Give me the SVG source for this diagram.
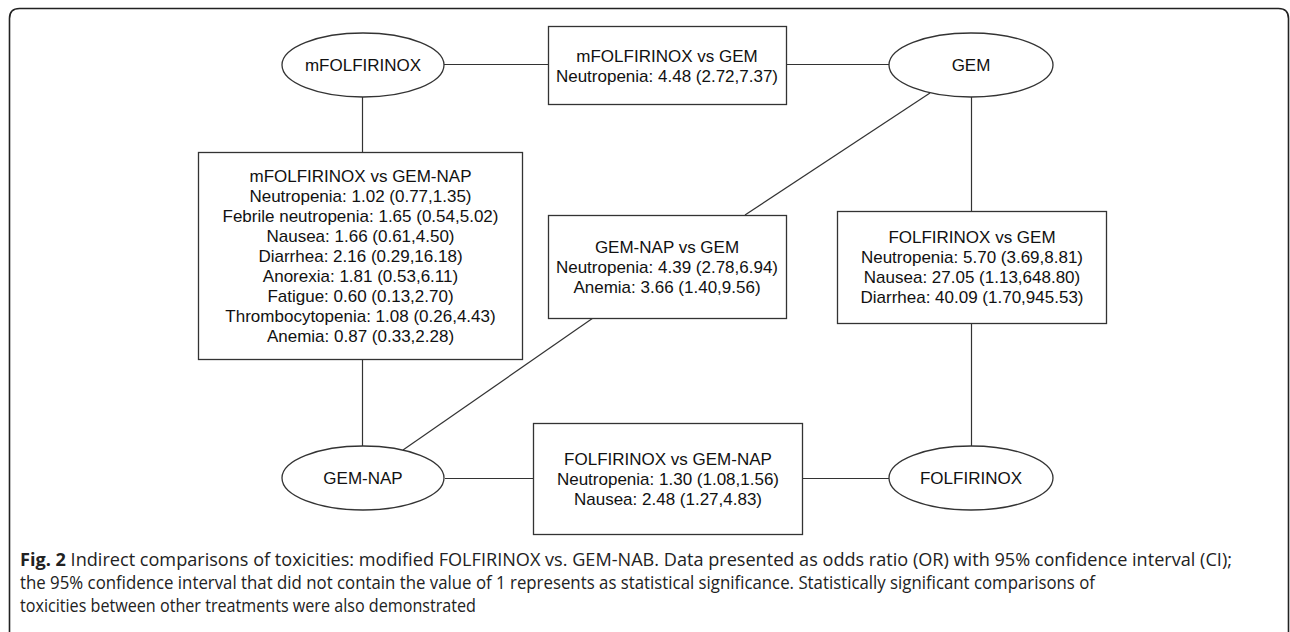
<svg xmlns="http://www.w3.org/2000/svg" width="1290" height="632" viewBox="0 0 1290 632">
<style>
.frame{fill:none;stroke:#222;stroke-width:1.6}
.node{fill:#fff;stroke:#333;stroke-width:1.3}
.edge{stroke:#333;stroke-width:1.2;fill:none}
.t{font-family:"Liberation Sans",Arial,sans-serif;font-size:17px;fill:#111;text-anchor:middle}
.cap{font-family:"Open Sans","Noto Sans",sans-serif;font-size:18px;fill:#222}
.b{font-weight:bold}
</style>
<rect width="1290" height="632" fill="#fff"/>
<path class="frame" d="M9.5 632 V18.5 Q9.5 8.5 19.5 8.5 H1278.5 Q1288.5 8.5 1288.5 18.5 V632"/>
<g id="connectors">
<line class="edge" x1="444" y1="64.5" x2="548" y2="64.5"/>
<line class="edge" x1="786" y1="64.5" x2="889" y2="64.5"/>
<line class="edge" x1="362.5" y1="97" x2="362.5" y2="152"/>
<line class="edge" x1="362.5" y1="359" x2="362.5" y2="446"/>
<line class="edge" x1="971.5" y1="97" x2="971.5" y2="211"/>
<line class="edge" x1="971.5" y1="323" x2="971.5" y2="446"/>
<line class="edge" x1="445" y1="478.5" x2="533" y2="478.5"/>
<line class="edge" x1="802" y1="478.5" x2="889" y2="478.5"/>
<line class="edge" x1="930" y1="93" x2="745" y2="215"/>
<line class="edge" x1="593" y1="318" x2="403" y2="450"/>
</g>
<g id="n-mfolfirinox">
<ellipse class="node" cx="363" cy="65" rx="81" ry="32"/>
<text class="t" x="363" y="71">mFOLFIRINOX</text>
</g>
<g id="n-gem">
<ellipse class="node" cx="971" cy="65" rx="82" ry="32"/>
<text class="t" x="971" y="71">GEM</text>
</g>
<g id="n-gemnap">
<ellipse class="node" cx="363" cy="478" rx="81" ry="32"/>
<text class="t" x="363" y="484">GEM-NAP</text>
</g>
<g id="n-folfirinox">
<ellipse class="node" cx="971" cy="478" rx="82" ry="32"/>
<text class="t" x="971" y="484">FOLFIRINOX</text>
</g>
<g id="b-mfolf-gem">
<rect class="node" x="548.5" y="26.5" width="238" height="78"/>
<text class="t" x="667" y="62">mFOLFIRINOX vs GEM</text>
<text class="t" x="667" y="82">Neutropenia: 4.48 (2.72,7.37)</text>
</g>
<g id="b-mfolf-gemnap">
<rect class="node" x="198.5" y="152.5" width="324" height="207"/>
<text class="t" x="360.5" y="182">mFOLFIRINOX vs GEM-NAP</text>
<text class="t" x="360.5" y="202">Neutropenia: 1.02 (0.77,1.35)</text>
<text class="t" x="360.5" y="222">Febrile neutropenia: 1.65 (0.54,5.02)</text>
<text class="t" x="360.5" y="242">Nausea: 1.66 (0.61,4.50)</text>
<text class="t" x="360.5" y="262">Diarrhea: 2.16 (0.29,16.18)</text>
<text class="t" x="360.5" y="282">Anorexia: 1.81 (0.53,6.11)</text>
<text class="t" x="360.5" y="302">Fatigue: 0.60 (0.13,2.70)</text>
<text class="t" x="360.5" y="322">Thrombocytopenia: 1.08 (0.26,4.43)</text>
<text class="t" x="360.5" y="342">Anemia: 0.87 (0.33,2.28)</text>
</g>
<g id="b-gemnap-gem">
<rect class="node" x="548.5" y="215.5" width="238" height="103"/>
<text class="t" x="667" y="253">GEM-NAP vs GEM</text>
<text class="t" x="667" y="273">Neutropenia: 4.39 (2.78,6.94)</text>
<text class="t" x="667" y="293">Anemia: 3.66 (1.40,9.56)</text>
</g>
<g id="b-folf-gem">
<rect class="node" x="837.5" y="211.5" width="269" height="112"/>
<text class="t" x="972" y="243">FOLFIRINOX vs GEM</text>
<text class="t" x="972" y="263">Neutropenia: 5.70 (3.69,8.81)</text>
<text class="t" x="972" y="283">Nausea: 27.05 (1.13,648.80)</text>
<text class="t" x="972" y="303">Diarrhea: 40.09 (1.70,945.53)</text>
</g>
<g id="b-folf-gemnap">
<rect class="node" x="533.5" y="423.5" width="269" height="111"/>
<text class="t" x="668" y="465">FOLFIRINOX vs GEM-NAP</text>
<text class="t" x="668" y="485">Neutropenia: 1.30 (1.08,1.56)</text>
<text class="t" x="668" y="505">Nausea: 2.48 (1.27,4.83)</text>
</g>
<g id="caption">
<text class="cap" x="20" y="566" textLength="1212" lengthAdjust="spacingAndGlyphs"><tspan class="b">Fig. 2</tspan> Indirect comparisons of toxicities: modified FOLFIRINOX vs. GEM-NAB. Data presented as odds ratio (OR) with 95% confidence interval (CI);</text>
<text class="cap" x="20" y="589" textLength="1075" lengthAdjust="spacingAndGlyphs">the 95% confidence interval that did not contain the value of 1 represents as statistical significance. Statistically significant comparisons of</text>
<text class="cap" x="20" y="612" textLength="456" lengthAdjust="spacingAndGlyphs">toxicities between other treatments were also demonstrated</text>
</g>
</svg>
